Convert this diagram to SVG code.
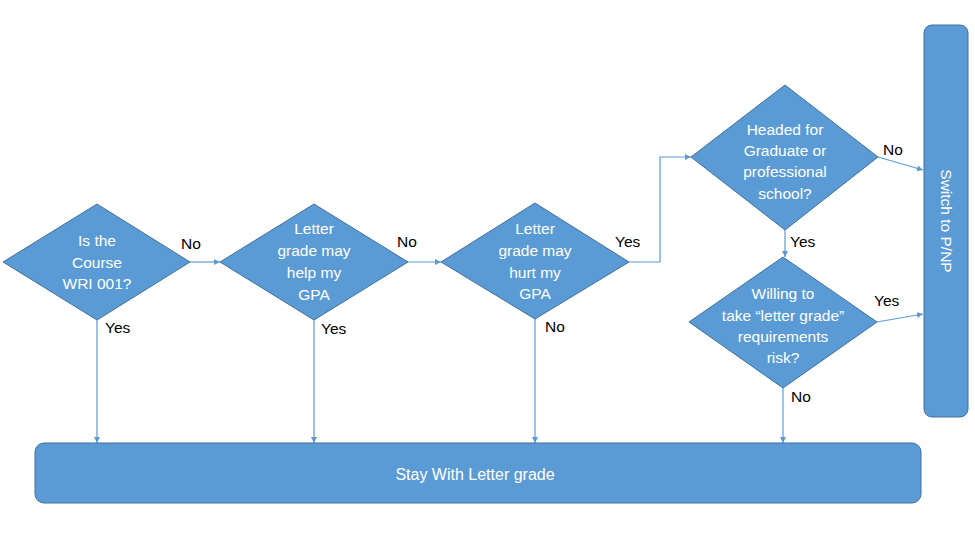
<svg xmlns="http://www.w3.org/2000/svg" width="975" height="548" viewBox="0 0 975 548">
<style>
.shape{fill:#5B9BD5;stroke:#41719C;stroke-width:1}
.t{font-family:"Liberation Sans",Arial,sans-serif;font-size:15.5px;fill:#fff;text-anchor:middle}
.lbl{font-family:"Liberation Sans",Arial,sans-serif;font-size:15.5px;fill:#000}
.c{fill:none;stroke:#5B9BD5;stroke-width:1.2}
</style>
<defs>
<marker id="ah" markerWidth="8" markerHeight="8" refX="6" refY="3" orient="auto" markerUnits="userSpaceOnUse">
<path d="M0,0 L6,3 L0,6 Z" fill="#5B9BD5"/>
</marker>
</defs>
<rect width="975" height="548" fill="#fff"/>
<g id="connectors">
<path class="c" d="M190,262 H220" marker-end="url(#ah)"/>
<path class="c" d="M408,262 H441" marker-end="url(#ah)"/>
<path class="c" d="M629,262 H660 V157 H691" marker-end="url(#ah)"/>
<path class="c" d="M785,230 V257" marker-end="url(#ah)"/>
<path class="c" d="M878,157 L923,170" marker-end="url(#ah)"/>
<path class="c" d="M877,322 L923,314" marker-end="url(#ah)"/>
<path class="c" d="M97,320 V443" marker-end="url(#ah)"/>
<path class="c" d="M314,320 V443" marker-end="url(#ah)"/>
<path class="c" d="M535,319 V443" marker-end="url(#ah)"/>
<path class="c" d="M783,388 V443" marker-end="url(#ah)"/>
<text class="lbl" x="181" y="249">No</text>
<text class="lbl" x="397" y="247">No</text>
<text class="lbl" x="615" y="247">Yes</text>
<text class="lbl" x="883" y="155">No</text>
<text class="lbl" x="790" y="247">Yes</text>
<text class="lbl" x="874" y="306">Yes</text>
<text class="lbl" x="791" y="402">No</text>
<text class="lbl" x="105" y="333">Yes</text>
<text class="lbl" x="321" y="334">Yes</text>
<text class="lbl" x="545" y="332">No</text>
</g>
<g id="n1">
<polygon class="shape" points="97,204 190,262 97,320 3,262"/>
<text class="t" x="97" y="246">Is the</text>
<text class="t" x="97" y="268">Course</text>
<text class="t" x="97" y="289">WRI 001?</text>
</g>
<g id="n2">
<polygon class="shape" points="314,204 408,262 314,320 220,262"/>
<text class="t" x="314" y="234">Letter</text>
<text class="t" x="314" y="256">grade may</text>
<text class="t" x="314" y="278">help my</text>
<text class="t" x="314" y="300">GPA</text>
</g>
<g id="n3">
<polygon class="shape" points="535,203 629,262 535,319 441,262"/>
<text class="t" x="535" y="234">Letter</text>
<text class="t" x="535" y="256">grade may</text>
<text class="t" x="535" y="278">hurt my</text>
<text class="t" x="535" y="299">GPA</text>
</g>
<g id="n4">
<polygon class="shape" points="785,85 878,157 785,230 691,157"/>
<text class="t" x="785" y="135">Headed for</text>
<text class="t" x="785" y="156">Graduate or</text>
<text class="t" x="785" y="177">professional</text>
<text class="t" x="785" y="199">school?</text>
</g>
<g id="n5">
<polygon class="shape" points="783,257 877,322 783,388 689,322"/>
<text class="t" x="783" y="299">Willing to</text>
<text class="t" x="783" y="321">take “letter grade”</text>
<text class="t" x="783" y="342">requirements</text>
<text class="t" x="783" y="363">risk?</text>
</g>
<g id="n6">
<rect class="shape" x="924" y="25" width="44" height="392" rx="8"/>
<text class="t" transform="translate(946,221) rotate(90)" x="0" y="5.5">Switch to P/NP</text>
</g>
<g id="n7">
<rect class="shape" x="35" y="443" width="886" height="60" rx="9"/>
<text class="t" style="font-size:16px" x="475" y="480">Stay With Letter grade</text>
</g>
</svg>
